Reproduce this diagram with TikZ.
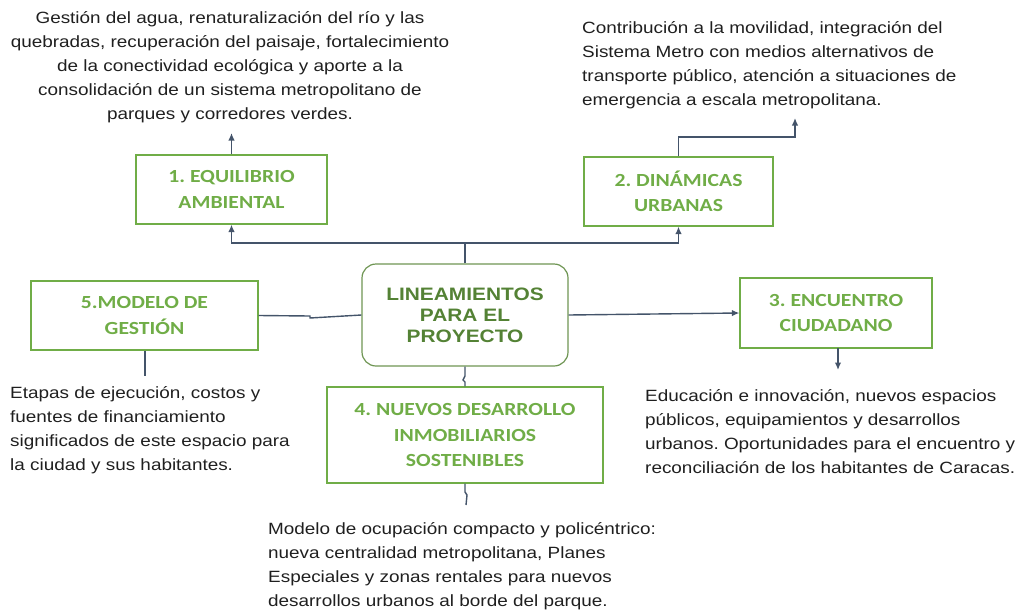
\documentclass[tikz,border=0pt]{standalone}
\usepackage{fontspec}
\setmainfont[FakeStretch=1.16]{Liberation Sans}
\newfontfamily\boxfont[FakeStretch=1.17]{Carlito}
\usetikzlibrary{arrows.meta,positioning}
\definecolor{leaf}{HTML}{70AD47}
\definecolor{moss}{HTML}{548235}
\definecolor{slate}{HTML}{44546A}

\begin{document}
\frenchspacing
\begin{tikzpicture}[x=1pt,y=-1pt,>={Latex[length=7.5pt,width=6.5pt]},
  linea/.style={draw=leaf,line width=1.2pt,align=center,inner sep=0pt,
    font=\boxfont\bfseries\fontsize{18.5}{25.5}\selectfont,text=leaf},
  nota/.style={inner sep=0pt,font=\fontsize{16.3}{24}\selectfont,text=black!88},
  enlace/.style={draw=slate,line width=1.4pt}]
\useasboundingbox (0,0) rectangle (1024,610);
% nucleo
\node[draw=moss!85,line width=1.2pt,rounded corners=14pt,minimum width=206pt,
  minimum height=102pt,align=center,text=moss,
  font=\bfseries\fontsize{18}{21}\selectfont] (centro) at (465,315)
  {LINEAMIENTOS\\PARA EL\\PROYECTO};
% lineamientos
\node[linea,minimum width=191pt,minimum height=69pt] (equilibrio) at (231.5,189.5) {1. EQUILIBRIO\\AMBIENTAL};
\node[linea,minimum width=189pt,minimum height=69pt] (dinamicas) at (678.5,191.5) {2. DINÁMICAS\\URBANAS};
\node[linea,minimum width=192pt,minimum height=70pt] (encuentro) at (836,313) {3. ENCUENTRO\\CIUDADANO};
\node[linea,minimum width=276pt,minimum height=96pt] (desarrollo) at (465,435) {4. NUEVOS DESARROLLO\\INMOBILIARIOS\\SOSTENIBLES};
\node[linea,minimum width=227pt,minimum height=69pt] (gestion) at (144.5,315.5) {5.MODELO DE\\GESTIÓN};
% descripciones
\node[nota,align=center,anchor=north] (txtequilibrio) at (230,11)
  {Gestión del agua, renaturalización del río y las\\quebradas, recuperación del paisaje, fortalecimiento\\de la conectividad ecológica y aporte a la\\consolidación de un sistema metropolitano de\\parques y corredores verdes.};
\node[nota,align=left,anchor=north west] (txtdinamicas) at (582,21)
  {Contribución a la movilidad, integración del\\Sistema Metro con medios alternativos de\\transporte público, atención a situaciones de\\emergencia a escala metropolitana.};
\node[nota,align=left,anchor=north west] (txtgestion) at (10,386)
  {Etapas de ejecución, costos y\\fuentes de financiamiento\\significados de este espacio para\\la ciudad y sus habitantes.};
\node[nota,align=left,anchor=north west] (txtencuentro) at (645,389)
  {Educación e innovación, nuevos espacios\\públicos, equipamientos y desarrollos\\urbanos. Oportunidades para el encuentro y\\reconciliación de los habitantes de Caracas.};
\node[nota,align=left,anchor=north west] (txtdesarrollo) at (268,522)
  {Modelo de ocupación compacto y policéntrico:\\nueva centralidad metropolitana, Planes\\Especiales y zonas rentales para nuevos\\desarrollos urbanos al borde del parque.};
% extremos libres
\coordinate (finequilibrio) at (231.5,133);
\coordinate (findinamicas) at (795,118);
\coordinate (finencuentro) at (838,370);
\coordinate (fingestion) at (145,376);
\coordinate (findesarrollo) at (466,505);
% conectores
\draw[enlace,->] (centro.north) -- (465,243) -| (equilibrio.south);
\draw[enlace,->] (465,243) -| (dinamicas.south);
\draw[enlace,->] (equilibrio.north) -- (finequilibrio);
\draw[enlace,->] (dinamicas.north) |- (795,137) -- (findinamicas);
\draw[enlace,->] (centro.east) -- (encuentro.west);
\draw[enlace,->] (838,348) -- (finencuentro);
\draw[enlace] (gestion.east) -- (310,316) -- (310,318) -- (centro.west);
\draw[enlace,line width=2.6pt] (fingestion |- gestion.south) -- (fingestion);
\draw[enlace] (centro.south) -- (465,376) -- (463,380) -- (465,382) -- (desarrollo.north);
\draw[enlace] (desarrollo.south) -- (465,492) -- (467,495) -- (findesarrollo);
\end{tikzpicture}
\end{document}
